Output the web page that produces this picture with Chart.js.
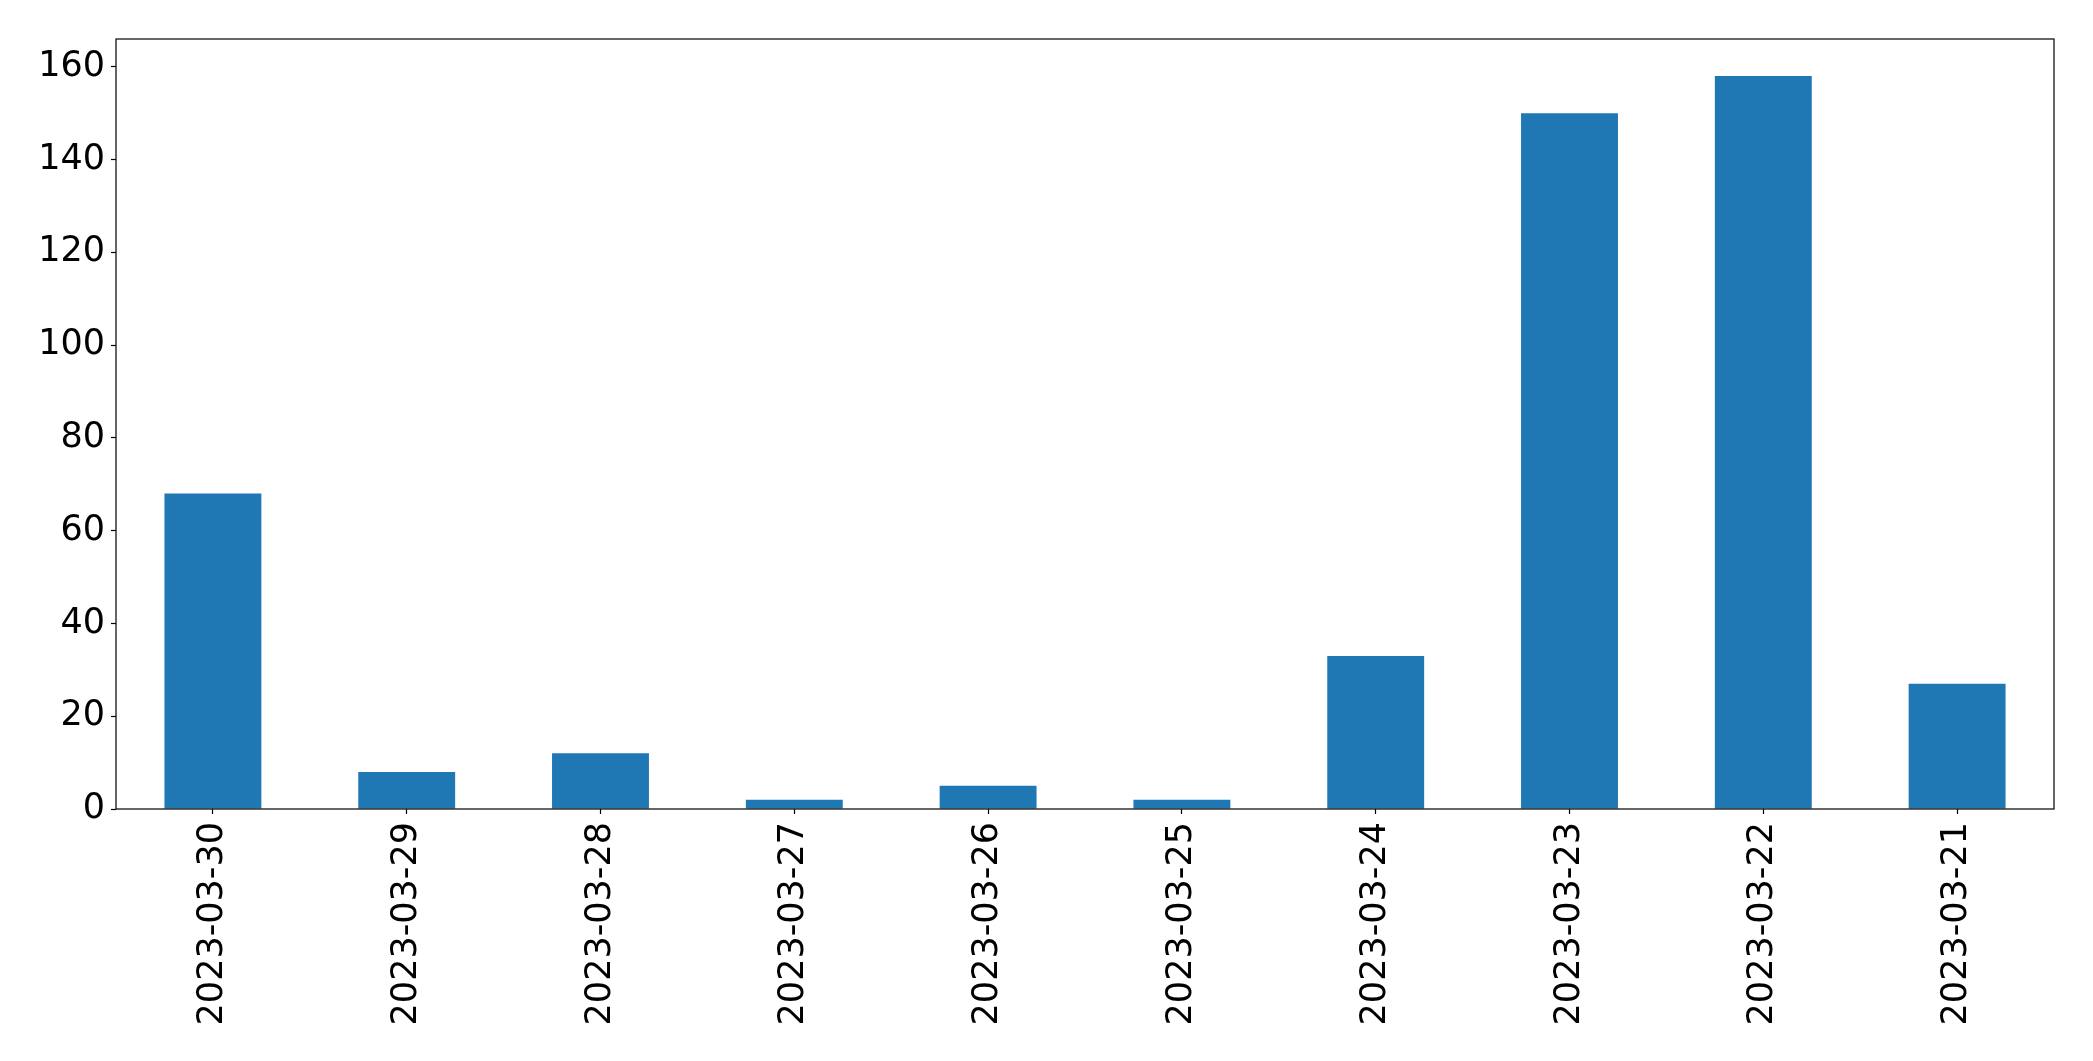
<!DOCTYPE html>
<html>
<head>
<meta charset="utf-8">
<script src="https://cdn.jsdelivr.net/npm/chart.js@4.4.0/dist/chart.umd.min.js"></script>
<style>
  html, body { margin: 0; padding: 0; background: #fff; }
  #wrap { width: 2093px; height: 1061px; }
</style>
</head>
<body>
<div id="wrap"><canvas id="c" width="2093" height="1061"></canvas></div>
<script>
const categories = ["2023-03-30","2023-03-29","2023-03-28","2023-03-27","2023-03-26","2023-03-25","2023-03-24","2023-03-23","2023-03-22","2023-03-21"];
const counts = [68, 8, 12, 2, 5, 2, 33, 150, 158, 27];
const yTicks = [0, 20, 40, 60, 80, 100, 120, 140, 160];

const frame = {
  id: 'frame',
  afterDraw(chart) {
    const a = chart.chartArea, ctx = chart.ctx;
    ctx.save();
    ctx.strokeStyle = '#000';
    ctx.lineWidth = 1.2;
    ctx.strokeRect(a.left, a.top, a.right - a.left, a.bottom - a.top);
    ctx.restore();
  }
};

new Chart(document.getElementById('c'), {
  type: 'bar',
  data: {
    labels: categories,
    datasets: [{
      data: counts,
      backgroundColor: '#1f77b4',
      borderWidth: 0,
      categoryPercentage: 1.0,
      barPercentage: 0.5
    }]
  },
  options: {
    responsive: false,
    animation: false,
    devicePixelRatio: 1,
    layout: { padding: { top: 39, right: 39, left: 0, bottom: 0 } },
    plugins: { legend: { display: false }, tooltip: { enabled: false } },
    scales: {
      x: {
        offset: true,
        grid: { display: true, offset: false, drawOnChartArea: false, tickLength: 5, color: '#000', tickColor: '#000', tickWidth: 1.2 },
        border: { display: false },
        ticks: {
          color: '#000',
          font: { family: 'DejaVu Sans', size: 35 },
          minRotation: 90, maxRotation: 90,
          padding: 8,
          autoSkip: false
        },
        afterFit(scale) { scale.height = 1061 - 809; }
      },
      y: {
        min: 0, max: 166,
        grid: { display: true, drawOnChartArea: false, tickLength: 5, color: '#000', tickColor: '#000', tickWidth: 1.2 },
        border: { display: false },
        afterBuildTicks(scale) { scale.ticks = yTicks.map(v => ({ value: v })); },
        ticks: {
          color: '#000',
          font: { family: 'DejaVu Sans', size: 35 },
          padding: 6,
          includeBounds: false
        },
        afterFit(scale) { scale.width = 116; }
      }
    }
  },
  plugins: [frame]
});
</script>
</body>
</html>
